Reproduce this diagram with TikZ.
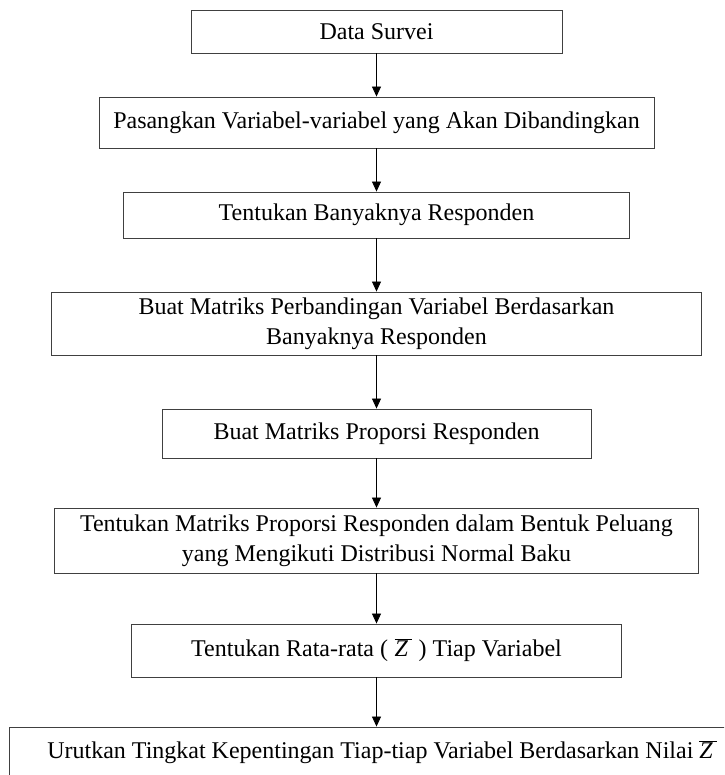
\documentclass[tikz,border=0pt]{standalone}
\usepackage{fontspec}
\setmainfont{Liberation Serif}
\usepackage{tikz}
\usetikzlibrary{arrows.meta,positioning}

\newcommand{\zbar}{$\overline{\mbox{\itshape Z\,}}$}

\begin{document}
\begin{tikzpicture}[
        x=1pt, y=-1pt,
        step_box/.style={
            rectangle,
            draw=black!75,
            line width=0.9pt,
            align=center,
            inner sep=0pt,
            font=\fontsize{24}{30}\selectfont
        },
        flow_arrow/.style={
            draw=black,
            line width=0.8pt,
            -{Triangle[length=10pt,width=9pt]}
        }
    ]
        \clip (0,0) rectangle (724,775);
        \fill[white] (0,0) rectangle (724,775);

        % Steps
        \node[step_box, minimum width=371pt, minimum height=43pt] (survei) at (376.5, 31.5) {Data Survei};
        \node[step_box, minimum width=555pt, minimum height=51pt] (pasang) at (376.5, 122.5) {Pasangkan Variabel-variabel yang Akan Dibandingkan};
        \node[step_box, minimum width=506pt, minimum height=46pt] (banyak) at (376.5, 215) {Tentukan Banyaknya Responden};
        \node[step_box, minimum width=650pt, minimum height=63pt] (matriks) at (376.5, 323.5) {Buat Matriks Perbandingan Variabel Berdasarkan\\Banyaknya Responden};
        \node[step_box, minimum width=429pt, minimum height=49pt] (proporsi) at (376.5, 433.5) {Buat Matriks Proporsi Responden};
        \node[step_box, minimum width=644pt, minimum height=65pt] (peluang) at (376.5, 540.5) {Tentukan Matriks Proporsi Responden dalam Bentuk Peluang\\yang Mengikuti Distribusi Normal Baku};
        \node[step_box, minimum width=490pt, minimum height=53pt] (rata) at (376.5, 650.5) {Tentukan Rata-rata (\;\zbar\;) Tiap Variabel};
        \node[step_box, minimum width=746pt, minimum height=50pt] (urut) at (382, 752) {Urutkan Tingkat Kepentingan Tiap-tiap Variabel Berdasarkan Nilai \zbar};

        % Arrows
        \draw[flow_arrow] (survei) -- (pasang);
        \draw[flow_arrow] (pasang) -- (banyak);
        \draw[flow_arrow] (banyak) -- (matriks);
        \draw[flow_arrow] (matriks) -- (proporsi);
        \draw[flow_arrow] (proporsi) -- (peluang);
        \draw[flow_arrow] (peluang) -- (rata);
        \draw[flow_arrow] (rata) -- (urut.north -| rata.south);
    \end{tikzpicture}
\end{document}
